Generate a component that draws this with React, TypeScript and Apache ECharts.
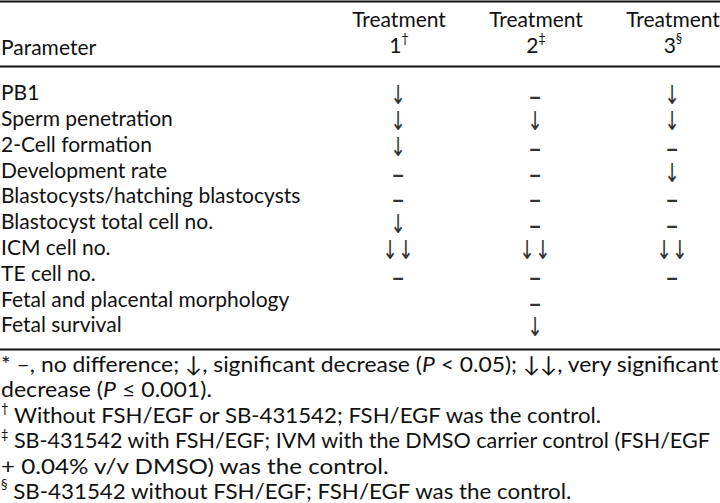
import React, { useEffect, useRef } from "react";
import * as echarts from "echarts";

const columnHeaders = ["Treatment", "Treatment", "Treatment"];
const columnNumbers = ["1", "2", "3"];
const columnMarks = ["†", "‡", "§"];
const parameterHeader = "Parameter";
const parameters = [
  "PB1",
  "Sperm penetration",
  "2-Cell formation",
  "Development rate",
  "Blastocysts/hatching blastocysts",
  "Blastocyst total cell no.",
  "ICM cell no.",
  "TE cell no.",
  "Fetal and placental morphology",
  "Fetal survival",
];
const treatment1 = ["↓", "↓", "↓", "–", "–", "↓", "↓↓", "–", "", ""];
const treatment2 = ["–", "↓", "–", "–", "–", "–", "↓↓", "–", "–", "↓"];
const treatment3 = ["↓", "↓", "–", "↓", "–", "–", "↓↓", "–", "", ""];
const footnotes = [
  "* –, no difference; ↓, significant decrease ({i|P} < 0.05); ↓↓, very significant",
  "decrease ({i|P} ≤ 0.001).",
  "{s|†} Without FSH/EGF or SB-431542; FSH/EGF was the control.",
  "{s|‡} SB-431542 with FSH/EGF; IVM with the DMSO carrier control (FSH/EGF",
  "+ 0.04% v/v DMSO) was the control.",
  "{s|§} SB-431542 without FSH/EGF; FSH/EGF was the control.",
];

const FONT = "Lato, 'Open Sans', sans-serif";
const SYM_FONT = "'DejaVu Sans', sans-serif";
const TEXT_COLOR = "#111";
const F = 21;
const FN = 22;
const FN_SCALE = [1.04, 1.05, 1.01, 0.98, 1.1, 1.015];
const COLX = [398, 535, 672];
const ROW0 = 98.5;
const STEP = 25.8;
const FN0 = 370;
const FNSTEP = 25.4;
const SYM_SCALE = 0.72;

function buildElements() {
  const els: any[] = [];
  const rule = (y: number) => ({
    type: "line",
    shape: { x1: 0, y1: y, x2: 720, y2: y },
    style: { stroke: "#111", lineWidth: 2 },
  });
  els.push(rule(1.5), rule(66.5), rule(349.5));
  const mid = (base: number, size: number) => base - 0.32 * size;

  els.push({
    type: "text",
    x: 1,
    y: mid(53.5, F),
    style: { text: parameterHeader, font: `${F}px ${FONT}`, fill: TEXT_COLOR, textAlign: "left", textVerticalAlign: "middle", lineHeight: 16 },
  });
  const HL = 25.4;
  columnHeaders.forEach((h, i) => {
    els.push({
      type: "text",
      x: COLX[i] + 1,
      y: 25.6 - 0.32 * F - HL / 2,
      style: {
        text: `${h}\n${columnNumbers[i]}{s|${columnMarks[i]}}`,
        font: `${F}px ${FONT}`,
        fill: TEXT_COLOR,
        textAlign: "center",
        textVerticalAlign: "top",
        lineHeight: HL,
        rich: {
          s: { fontSize: 13, fontFamily: FONT, lineHeight: 16, verticalAlign: "top", fill: TEXT_COLOR },
        },
      },
    });
  });

  parameters.forEach((p, r) => {
    const base = ROW0 + STEP * r;
    els.push({
      type: "text",
      x: 1,
      y: mid(base, F),
      style: { text: p, font: `${F}px ${FONT}`, fill: TEXT_COLOR, textAlign: "left", textVerticalAlign: "middle", lineHeight: 20 },
    });
  });

  [treatment1, treatment2, treatment3].forEach((col, c) => {
    const text = col
      .map((s) => (s === "–" ? `{d|${s}}` : s ? `{a|${s}}` : ""))
      .join("\n");
    els.push({
      type: "text",
      x: COLX[c],
      y: ROW0 - 3.5 - STEP / 2,
      scaleX: SYM_SCALE,
      style: {
        text,
        font: `26px ${SYM_FONT}`,
        fill: "#333",
        textAlign: "center",
        textVerticalAlign: "top",
        lineHeight: STEP,
        rich: {
          a: { fontSize: 26, fontFamily: "DejaVu Sans", lineHeight: STEP, fill: "#333" },
          d: { fontSize: 34, fontFamily: "Lato", lineHeight: STEP, fill: "#333" },
        },
      },
    });
  });

  footnotes.forEach((t, i) => {
    const base = FN0 + FNSTEP * i;
    els.push({
      type: "text",
      x: 1,
      y: base - 19,
      scaleX: FN_SCALE[i],
      style: {
        text: t,
        font: `${FN}px ${FONT}`,
        fill: TEXT_COLOR,
        textAlign: "left",
        textVerticalAlign: "top",
        lineHeight: 25,
        rich: {
          i: { fontStyle: "italic", fontSize: FN, fontFamily: FONT, lineHeight: 25 },
          s: { fontSize: 13, fontFamily: FONT, lineHeight: 14, verticalAlign: "top" },
        },
      },
    });
  });
  return els;
}

export default function App() {
  const ref = useRef<HTMLDivElement>(null);
  useEffect(() => {
    document.body.style.margin = "0";
    const chart = echarts.init(ref.current!, null, { renderer: "svg" });
    chart.setOption({
      animation: false,
      backgroundColor: "#fff",
      graphic: { elements: buildElements() },
    });
    return () => chart.dispose();
  }, []);
  return <div ref={ref} style={{ width: 720, height: 503 }} />;
}
